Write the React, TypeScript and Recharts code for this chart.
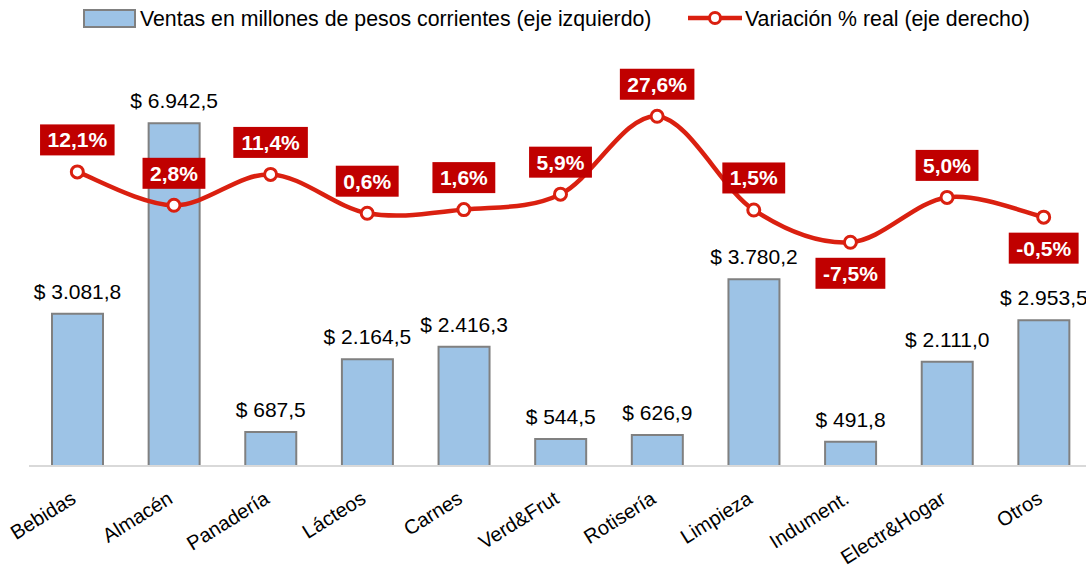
import React from 'react';
import { ComposedChart, Bar, Line, XAxis, YAxis, LabelList, Legend } from 'recharts';

const categories = ['Bebidas', 'Almacén', 'Panadería', 'Lácteos', 'Carnes', 'Verd&Frut', 'Rotisería', 'Limpieza', 'Indument.', 'Electr&Hogar', 'Otros'];
const ventas = [3081.8, 6942.5, 687.5, 2164.5, 2416.3, 544.5, 626.9, 3780.2, 491.8, 2111.0, 2953.5];
const variacion = [12.1, 2.8, 11.4, 0.6, 1.6, 5.9, 27.6, 1.5, -7.5, 5.0, -0.5];
const labelSide = ['up', 'up', 'up', 'up', 'up', 'up', 'up', 'up', 'down', 'up', 'down'];

const barName = 'Ventas en millones de pesos corrientes (eje izquierdo)';
const lineName = 'Variación % real (eje derecho)';

const data = categories.map((name, i) => ({ name, ventas: ventas[i], variacion: variacion[i], side: labelSide[i] }));

const FONT = '"Liberation Sans", Arial, sans-serif';
const RED_LINE = '#DA2010';
const RED_BOX = '#C00000';
const BAR_FILL = '#9DC3E6';
const BAR_STROKE = '#808080';

function fmtNum(v: number, dec: number) {
  const neg = v < 0;
  const s = Math.abs(v).toFixed(dec);
  const [int, frac] = s.split('.');
  const intF = int.replace(/\B(?=(\d{3})+(?!\d))/g, '.');
  return (neg ? '-' : '') + intF + (frac ? ',' + frac : '');
}

// Catmull-Rom like smoothing (Excel smoothed line)
function smoothCurve(context: any) {
  let pts: number[][] = [];
  return {
    areaStart() {},
    areaEnd() {},
    lineStart() { pts = []; },
    point(x: number, y: number) { pts.push([+x, +y]); },
    lineEnd() {
      if (!pts.length) return;
      context.moveTo(pts[0][0], pts[0][1]);
      for (let i = 0; i < pts.length - 1; i++) {
        const p0 = pts[i - 1] || pts[i];
        const p1 = pts[i];
        const p2 = pts[i + 1];
        const p3 = pts[i + 2] || pts[i + 1];
        const c1x = p1[0] + (p2[0] - p0[0]) / 6;
        const c1y = p1[1] + (p2[1] - p0[1]) / 6;
        const c2x = p2[0] - (p3[0] - p1[0]) / 6;
        const c2y = p2[1] - (p3[1] - p1[1]) / 6;
        context.bezierCurveTo(c1x, c1y, c2x, c2y, p2[0], p2[1]);
      }
    },
  };
}

const boldW: Record<string, number> = { '0': 0.556, '1': 0.556, '2': 0.556, '3': 0.556, '4': 0.556, '5': 0.556, '6': 0.556, '7': 0.556, '8': 0.556, '9': 0.556, ',': 0.278, '%': 0.889, '-': 0.333 };

const LineLabel = (props: any) => {
  const { x, y, value, index } = props;
  if (x == null || y == null) return null;
  const text = fmtNum(value, 1) + '%';
  const fs = 21;
  let w = 0;
  for (const ch of text) w += (boldW[ch] ?? 0.556) * fs;
  const bw = w + 15;
  const bh = 31;
  const side = labelSide[index];
  const cy = side === 'down' ? y + 31 : y - 32;
  return (
    <g>
      <rect x={x - bw / 2} y={cy - bh / 2} width={bw} height={bh} fill={RED_BOX} />
      <text x={x} y={cy + 7.5} textAnchor="middle" fill="#fff" fontWeight="bold" fontSize={fs} fontFamily={FONT}>{text}</text>
    </g>
  );
};

const BarLabel = (props: any) => {
  const { x, y, width, value } = props;
  if (x == null) return null;
  return (
    <text x={x + width / 2} y={y - 15} textAnchor="middle" fill="#000" fontSize={21} fontFamily={FONT}>
      {'$ ' + fmtNum(value, 1)}
    </text>
  );
};

const XTick = (props: any) => {
  const { x, y, payload } = props;
  return (
    <g transform={`translate(${x},${y + 36})`}>
      <text x={0} y={0} textAnchor="end" transform="rotate(-32)" fontSize={20} fontFamily={FONT} fill="#000">
        {payload.value}
      </text>
    </g>
  );
};

const LegendContent = () => (
  <svg width={1086} height={40} style={{ display: 'block' }}>
    <rect x={84} y={10} width={51} height={17} fill={BAR_FILL} stroke={BAR_STROKE} strokeWidth={2} />
    <text x={140} y={26} fontSize={21.3} fontFamily={FONT} fill="#000">{barName}</text>
    <line x1={688} y1={18} x2={742} y2={18} stroke={RED_LINE} strokeWidth={4.5} />
    <circle cx={715} cy={18} r={5.5} fill="#fff" stroke={RED_LINE} strokeWidth={3} />
    <text x={745} y={26} fontSize={21.3} fontFamily={FONT} fill="#000">{lineName}</text>
  </svg>
);

export default function App() {
  return (
    <div style={{ position: 'fixed', left: 0, top: 0, width: 1086, height: 566, overflow: 'hidden', background: '#fff' }}>
      <ComposedChart width={1100} height={566} data={data} margin={{ top: 71, right: 8, bottom: 0, left: 29 }}>
        <Legend
          verticalAlign="middle"
          align="center"
          layout="horizontal"
          wrapperStyle={{ top: 0, left: 0, width: 1086, height: 40 }}
          content={LegendContent}
        />
        <XAxis
          dataKey="name"
          interval={0}
          height={100}
          tickSize={0}
          tickMargin={0}
          tickLine={false}
          axisLine={{ stroke: '#D9D9D9', strokeWidth: 2 }}
          tick={<XTick />}
        />
        <YAxis yAxisId="left" hide domain={[0, 8000]} allowDataOverflow />
        <YAxis yAxisId="right" orientation="right" hide domain={[-69.8, 40.2]} allowDataOverflow />
        <Bar yAxisId="left" dataKey="ventas" name={barName} fill={BAR_FILL} stroke={BAR_STROKE} strokeWidth={2} barSize={51} isAnimationActive={false}>
          <LabelList dataKey="ventas" content={<BarLabel />} />
        </Bar>
        <Line
          yAxisId="right"
          dataKey="variacion"
          name={lineName}
          type={smoothCurve as any}
          stroke={RED_LINE}
          strokeWidth={4.5}
          dot={{ r: 6, fill: '#fff', stroke: RED_LINE, strokeWidth: 3 }}
          activeDot={false}
          isAnimationActive={false}
        >
          <LabelList dataKey="variacion" content={<LineLabel />} />
        </Line>
      </ComposedChart>
    </div>
  );
}
